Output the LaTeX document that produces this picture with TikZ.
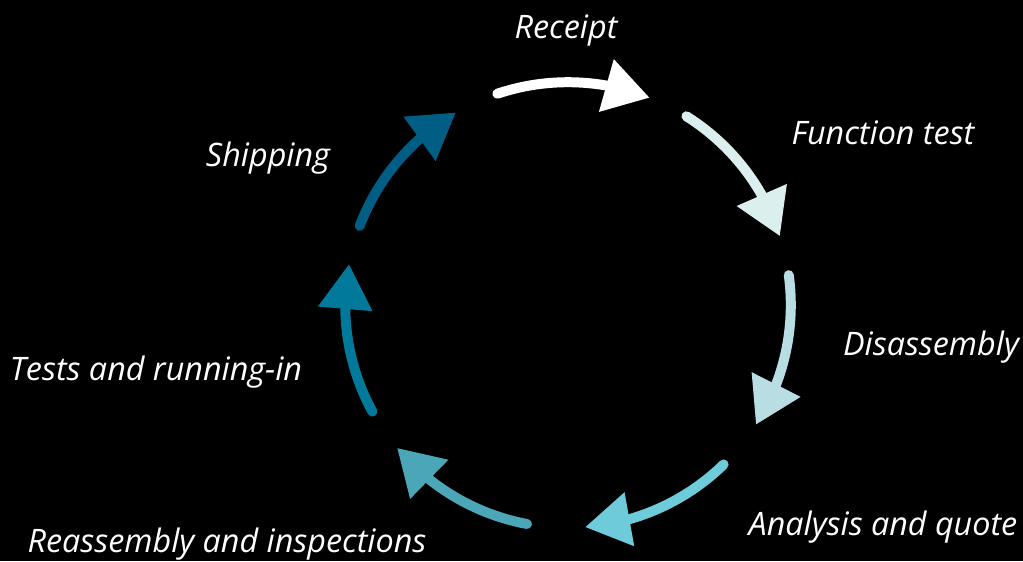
\documentclass[tikz,border=0pt]{standalone}
\usepackage{fontspec}
\setmainfont{Open Sans}
\usetikzlibrary{arrows.meta,bending,positioning}
\definecolor{stepA}{HTML}{FFFFFF}
\definecolor{stepB}{HTML}{DCEFEF}
\definecolor{stepC}{HTML}{B8DDE3}
\definecolor{stepD}{HTML}{6ECCDA}
\definecolor{stepE}{HTML}{4BA6B8}
\definecolor{stepF}{HTML}{00799A}
\definecolor{stepG}{HTML}{005E85}

\begin{document}
\begin{tikzpicture}
\tikzset{cycle arrow/.style={line width=7.1pt,line cap=round,
-{Triangle[length=1.125cm,width=1.3cm]}}}
\tikzset{step label/.style={text=white,inner sep=0pt,anchor=base,
font=\fontsize{23}{27}\selectfont\itshape}}
% background and page size
\fill[black] (0,0) rectangle (25.575,-14.025);
\useasboundingbox (0,0) rectangle (25.575,-14.025);
\coordinate (hub) at (14.2,-7.625);
% the seven arcs
\foreach \col/\sa/\ea in {stepA/108.5/68.5,stepB/57.9/18,stepC/7.7/-32.5,
stepD/-45.7/-85.6,stepE/-100.6/-140.1,stepF/-151.4/-190.6,stepG/-200.8/-239.8}
\draw[cycle arrow,\col] ([shift={(\sa:5.57)}]hub) arc[start angle=\sa,end angle=\ea,radius=5.57];
% labels
\node[step label] (receipt) at (14.15,-0.95) {Receipt};
\node[step label] (test) at (22.075,-3.6) {Function test};
\node[step label] (disasm) at (23.275,-8.875) {Disassembly};
\node[step label] (quote) at (22.075,-13.375) {Analysis and quote};
\node[step label] (reasm) at (5.675,-13.8) {Reassembly and inspections};
\node[step label] (running) at (3.9,-9.5) {Tests and running-in};
\node[step label] (shipping) at (6.7,-4.15) {Shipping};
\end{tikzpicture}
\end{document}
